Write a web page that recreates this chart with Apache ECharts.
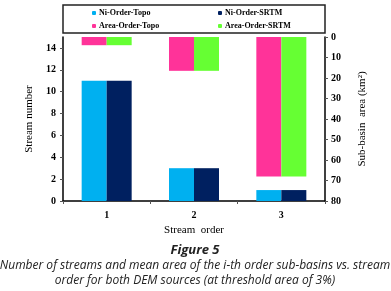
<!DOCTYPE html>
<html>
<head>
<meta charset="utf-8">
<script src="https://cdn.jsdelivr.net/npm/echarts@6/dist/echarts.min.js"></script>
<style>
  html, body { margin: 0; padding: 0; background: #fff; }
  #chart { width: 391px; height: 291px; }
</style>
</head>
<body>
<div id="chart"></div>
<script>
  // data
  const orders = ['1', '2', '3'];
  const niTopo = [11, 3, 1];
  const niSrtm = [11, 3, 1];
  const areaTopo = [4, 16.5, 68];
  const areaSrtm = [4, 16.5, 68];
  const leftTicks = [0, 2, 4, 6, 8, 10, 12, 14];

  const serif = 'Liberation Serif';
  const capFont = 'Open Sans';

  const chart = echarts.init(document.getElementById('chart'));

  function legendAt(name, left, top) {
    return {
      data: [name],
      left: left,
      top: top,
      padding: 0,
      itemWidth: 4,
      itemHeight: 4,
      itemGap: 3,
      selectedMode: false,
      textStyle: { fontFamily: serif, fontWeight: 'bold', fontSize: 8, color: '#000', padding: [0, 0, 0, -2] }
    };
  }

  chart.setOption({
    animation: false,
    grid: { left: 63, right: 66, top: 37, bottom: 90 },
    legend: [
      legendAt('Ni-Order-Topo', 92, 9),
      legendAt('Ni-Order-SRTM', 218, 9),
      legendAt('Area-Order-Topo', 92, 22),
      legendAt('Area-Order-SRTM', 218, 22)
    ],
    xAxis: [
      {
        type: 'category',
        data: orders,
        axisLine: { lineStyle: { color: '#000', width: 1.5 } },
        axisTick: { show: true, length: 3, lineStyle: { color: '#555' } },
        axisLabel: { fontFamily: serif, fontWeight: 'bold', fontSize: 10, color: '#000', margin: 9 },
        name: 'Stream  order',
        nameLocation: 'middle',
        nameGap: 24,
        nameTextStyle: { fontFamily: serif, fontSize: 11, color: '#000' }
      },
      {
        type: 'category',
        data: orders,
        show: false
      }
    ],
    yAxis: [
      {
        type: 'value',
        min: 0,
        max: 15,
        axisLine: { show: true, lineStyle: { color: '#000', width: 1.5 } },
        axisTick: { show: true, length: 3, customValues: leftTicks, lineStyle: { color: '#555' } },
        axisLabel: { fontFamily: serif, fontWeight: 'bold', fontSize: 10, color: '#000', margin: 7, customValues: leftTicks },
        splitLine: { show: false },
        name: 'Stream number',
        nameLocation: 'middle',
        nameGap: 25,
        nameTextStyle: { fontFamily: serif, fontSize: 11, color: '#000' }
      },
      {
        type: 'value',
        min: 0,
        max: 80,
        interval: 10,
        inverse: true,
        position: 'right',
        axisLine: { show: true, lineStyle: { color: '#000', width: 1.5 } },
        axisTick: { show: true, length: 3, lineStyle: { color: '#555' } },
        axisLabel: { fontFamily: serif, fontWeight: 'bold', fontSize: 10, color: '#000', margin: 6 },
        splitLine: { show: false },
        name: 'Sub-basin  area (km²)',
        nameLocation: 'middle',
        nameRotate: 90,
        nameGap: 32,
        nameTextStyle: { fontFamily: serif, fontSize: 11, color: '#000' }
      }
    ],
    series: [
      { name: 'Ni-Order-Topo', type: 'bar', xAxisIndex: 0, yAxisIndex: 0, data: niTopo, barWidth: 25, barGap: '0%', itemStyle: { color: '#00B0F0' } },
      { name: 'Ni-Order-SRTM', type: 'bar', xAxisIndex: 0, yAxisIndex: 0, data: niSrtm, barWidth: 25, barGap: '0%', itemStyle: { color: '#002060' } },
      { name: 'Area-Order-Topo', type: 'bar', xAxisIndex: 1, yAxisIndex: 1, data: areaTopo, barWidth: 25, barGap: '0%', itemStyle: { color: '#FF3399' } },
      { name: 'Area-Order-SRTM', type: 'bar', xAxisIndex: 1, yAxisIndex: 1, data: areaSrtm, barWidth: 25, barGap: '0%', itemStyle: { color: '#66FF33' } }
    ],
    graphic: [
      {
        type: 'rect',
        shape: { x: 63, y: 5, width: 262, height: 28 },
        style: { fill: 'none', stroke: '#222', lineWidth: 1.5 }
      },
      {
        type: 'text', x: 195, y: 250,
        style: { text: 'Figure 5', fontFamily: capFont, fontStyle: 'italic', fontWeight: 'bold', fontSize: 13, fill: '#222', align: 'center', verticalAlign: 'middle' }
      },
      {
        type: 'text', x: 195, y: 266,
        style: { text: 'Number of streams and mean area of the i-th order sub-basins vs. stream', fontFamily: capFont, fontStyle: 'italic', fontSize: 12, fill: '#222', align: 'center', verticalAlign: 'middle' }
      },
      {
        type: 'text', x: 195, y: 281,
        style: { text: 'order for both DEM sources (at threshold area of 3%)', fontFamily: capFont, fontStyle: 'italic', fontSize: 12, fill: '#222', align: 'center', verticalAlign: 'middle' }
      }
    ]
  });
</script>
</body>
</html>
